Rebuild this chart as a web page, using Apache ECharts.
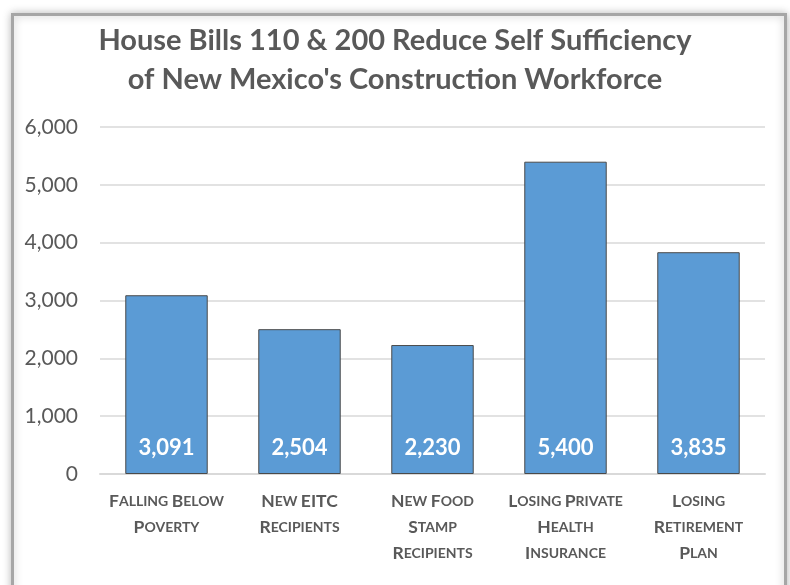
<!DOCTYPE html>
<html>
<head>
<meta charset="utf-8">
<script src="https://cdn.jsdelivr.net/npm/echarts@6/dist/echarts.min.js"></script>
<style>
  html, body { margin: 0; padding: 0; background: #ffffff; }
  #chart { width: 790px; height: 585px; }
</style>
</head>
<body>
<div id="chart"></div>
<script>
// Workers affected, by outcome
const categories = [
  'Falling Below\nPoverty',
  'New EITC\nRecipients',
  'New Food\nStamp\nRecipients',
  'Losing Private\nHealth\nInsurance',
  'Losing\nRetirement\nPlan'
];
const workers = [3091, 2504, 2230, 5400, 3835];
const yTicks = [0, 1000, 2000, 3000, 4000, 5000, 6000];

const titleText = "House Bills 110 & 200 Reduce Self Sufficiency\nof New Mexico's Construction Workforce";
const FONT = 'Lato, "Open Sans", sans-serif';

// Small-caps effect: capitals stay full size, lower-case letters become smaller capitals
function smallCaps(text) {
  return text.split('\n').map(line => {
    let out = '';
    let run = '';
    let runBig = null;
    const flush = () => {
      if (run) out += '{' + (runBig ? 'big' : 'small') + '|' + run + '}';
      run = '';
    };
    for (const ch of line) {
      const isBig = ch !== ch.toLowerCase();
      const kind = ch === ' ' ? runBig : isBig;
      if (runBig !== null && kind !== runBig) flush();
      runBig = kind;
      run += ch.toUpperCase();
    }
    flush();
    return out;
  }).join('\n');
}

const fmt = v => v.toLocaleString('en-US');

const chart = echarts.init(document.getElementById('chart'), null, { renderer: 'canvas' });
chart.setOption({
  backgroundColor: '#ffffff',
  animation: false,
  graphic: [{
    type: 'rect',
    z: -10,
    shape: { x: 12.5, y: 14.5, width: 773, height: 600 },
    style: {
      fill: '#ffffff',
      stroke: '#a6a6a6',
      lineWidth: 3,
      shadowBlur: 8,
      shadowColor: 'rgba(0,0,0,0.25)',
      shadowOffsetX: 0,
      shadowOffsetY: 0
    }
  }],
  title: {
    text: titleText,
    left: 'center',
    top: 16,
    textStyle: {
      fontFamily: FONT,
      fontSize: 29,
      fontWeight: 'bold',
      color: '#595959',
      lineHeight: 39
    }
  },
  grid: { left: 100, right: 25, top: 127, bottom: 111, containLabel: false },
  xAxis: {
    type: 'category',
    data: categories,
    axisLine: { show: true, lineStyle: { color: '#d9d9d9', width: 2 } },
    axisTick: { show: false },
    axisLabel: {
      interval: 0,
      margin: 14,
      lineHeight: 26,
      formatter: smallCaps,
      rich: {
        big: { fontFamily: FONT, fontSize: 17.5, fontWeight: 'bold', color: '#595959', lineHeight: 26 },
        small: { fontFamily: FONT, fontSize: 14, fontWeight: 'bold', color: '#595959', lineHeight: 26 }
      }
    }
  },
  yAxis: {
    type: 'value',
    min: yTicks[0],
    max: yTicks[yTicks.length - 1],
    interval: 1000,
    axisLine: { show: false },
    axisTick: { show: false },
    axisLabel: {
      margin: 22,
      fontFamily: FONT,
      fontSize: 21,
      color: '#595959',
      formatter: v => fmt(v)
    },
    splitLine: { lineStyle: { color: '#d9d9d9', width: 1.5 } }
  },
  series: [{
    type: 'bar',
    data: workers,
    barWidth: '62%',
    itemStyle: { color: '#5b9bd5', borderColor: '#4a4a4a', borderWidth: 1 },
    label: {
      show: true,
      position: 'insideBottom',
      distance: 15,
      fontFamily: FONT,
      fontSize: 22,
      fontWeight: 'bold',
      color: '#ffffff',
      formatter: p => fmt(p.value)
    }
  }]
});
</script>
</body>
</html>
